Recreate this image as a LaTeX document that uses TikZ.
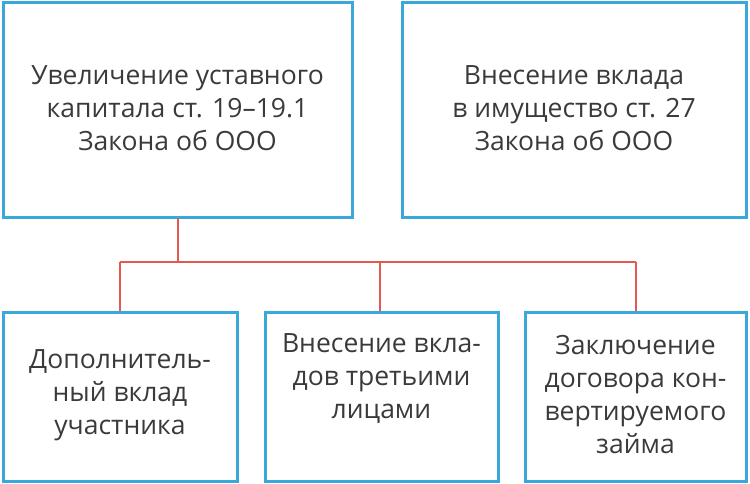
\documentclass[tikz,border=0pt]{standalone}
\usepackage{fontspec}
\setmainfont{Open Sans}
\definecolor{bx}{HTML}{3AA8DA}
\definecolor{ln}{HTML}{E5584C}
\definecolor{tx}{HTML}{3A3A3A}
\begin{document}
\begin{tikzpicture}[x=1pt,y=-1pt,
  box/.style={draw=bx,line width=3pt},
  lbl/.style={align=center,text=tx,font=\fontsize{26.5}{33}\selectfont},
  conn/.style={draw=ln,line width=2.5pt}]
\useasboundingbox (0,0) rectangle (750,484);
\draw[box] (3,3) rectangle (352,217);
\draw[box] (402,3) rectangle (746,217);
\draw[box] (3,312) rectangle (237,481);
\draw[box] (265,312) rectangle (498,481);
\draw[box] (525,312) rectangle (746,481);
\node[lbl] (a) at (177.5,108) {Увеличение уставного\\капитала ст. 19–19.1\\Закона об ООО};
\node[lbl] (b) at (574,108) {Внесение вклада\\в имущество ст. 27\\Закона об ООО};
\node[lbl] (c) at (120,395) {Дополнитель-\\ный вклад\\участника};
\node[lbl] (d) at (381.5,378) {Внесение вкла-\\дов третьими\\лицами};
\node[lbl] (e) at (635.5,394.5) {Заключение\\договора кон-\\вертируемого\\займа};
\coordinate (t) at (178,218);
\coordinate (m) at (178,262);
\coordinate (l) at (120,262);
\coordinate (r) at (636,262);
\coordinate (mc) at (380,262);
\coordinate (c1) at (120,311);
\coordinate (c2) at (380,311);
\coordinate (c3) at (636,311);
\draw[conn] (t) -- (m);
\draw[conn] (l) -- (r);
\draw[conn] (l) -- (c1);
\draw[conn] (mc) -- (c2);
\draw[conn] (r) -- (c3);
\end{tikzpicture}
\end{document}
